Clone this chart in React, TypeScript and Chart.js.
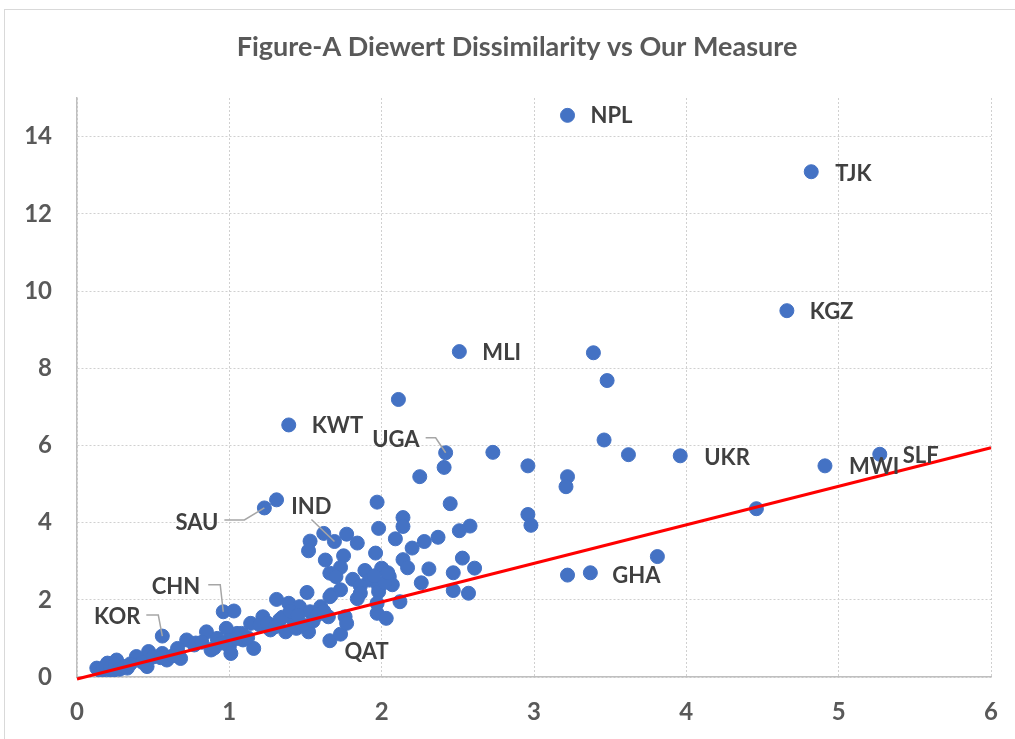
import React, { useEffect, useRef } from "react";
import { Chart, registerables } from "chart.js";

Chart.register(...registerables);

const TITLE = "Figure-A Diewert Dissimilarity vs Our Measure";

// Our measure (x) and Diewert dissimilarity (y) for every country
const xValues = [
  3.22, 4.82, 4.66, 2.51, 3.39, 3.48, 2.11, 1.39, 2.42, 2.73, 3.46, 3.62, 3.96, 4.91, 5.27,
  2.41, 2.96, 3.22, 3.21, 2.25, 2.45, 2.96, 2.98, 4.46, 3.81, 3.22, 3.37,
  1.23, 1.31, 1.97, 2.14, 2.14, 1.98, 2.09, 2.58, 2.51, 2.37, 2.28, 2.20, 1.96, 2.14, 2.17,
  2.53, 2.61, 2.31, 2.47, 2.26, 2.47, 2.57, 2.12,
  1.69, 1.53, 1.52, 1.62, 1.77, 1.84, 1.75, 1.63, 1.73, 1.66, 1.70, 1.89, 2.00, 1.81, 1.92,
  2.05, 1.86, 1.98, 2.07, 1.51, 1.73, 1.67, 1.86, 1.98, 2.02, 2.04, 1.95,
  1.66, 1.73, 1.66, 1.31, 1.39, 1.46, 1.60, 1.53, 1.22, 1.33, 1.42, 1.14, 1.20, 1.27, 1.37,
  1.44, 1.52, 1.65, 1.76, 1.77, 1.05, 1.09, 1.16, 1.00, 1.97, 2.03, 1.97,
  0.56, 0.96, 1.03, 0.85, 0.98, 1.00, 1.08, 0.72, 0.77, 0.66, 0.88, 1.01, 0.56, 0.47, 0.39,
  0.46, 0.33, 0.26, 0.20, 0.13, 0.16, 0.23, 0.59, 0.68,
  0.17, 0.19, 0.22, 0.25, 0.28, 0.31, 0.35, 0.43, 0.50, 0.55, 0.63, 0.78, 0.82, 0.90, 0.92,
  0.95, 1.05, 1.12, 1.25, 1.30, 1.35, 1.40, 1.48, 1.55, 1.58, 1.62, 1.45, 1.84,
];
const yValues = [
  14.55, 13.09, 9.49, 8.43, 8.40, 7.68, 7.19, 6.53, 5.81, 5.82, 6.14, 5.76, 5.73, 5.47, 5.77,
  5.43, 5.47, 5.19, 4.93, 5.19, 4.49, 4.21, 3.93, 4.36, 3.12, 2.64, 2.70,
  4.38, 4.59, 4.53, 4.13, 3.90, 3.85, 3.58, 3.91, 3.79, 3.62, 3.51, 3.34, 3.21, 3.04, 2.83,
  3.08, 2.82, 2.80, 2.70, 2.44, 2.24, 2.17, 1.95,
  3.51, 3.52, 3.27, 3.72, 3.70, 3.47, 3.14, 3.03, 2.84, 2.69, 2.60, 2.76, 2.82, 2.53, 2.51,
  2.60, 2.36, 2.34, 2.39, 2.19, 2.26, 2.13, 2.17, 2.21, 2.45, 2.70, 2.62,
  0.94, 1.11, 2.08, 2.01, 1.91, 1.82, 1.82, 1.69, 1.56, 1.48, 1.48, 1.39, 1.35, 1.22, 1.17,
  1.26, 1.17, 1.56, 1.56, 1.39, 1.13, 0.96, 0.74, 0.79, 1.65, 1.52, 1.91,
  1.06, 1.69, 1.71, 1.17, 1.26, 0.96, 1.13, 0.96, 0.83, 0.74, 0.70, 0.61, 0.61, 0.66, 0.53,
  0.27, 0.23, 0.44, 0.36, 0.23, 0.14, 0.14, 0.44, 0.48,
  0.22, 0.28, 0.25, 0.32, 0.20, 0.27, 0.34, 0.38, 0.52, 0.50, 0.55, 0.88, 0.90, 0.75, 1.00,
  0.88, 1.00, 1.02, 1.40, 1.30, 1.55, 1.70, 1.35, 1.45, 1.62, 1.70, 1.60, 2.03,
];

// Labelled countries
const labelCodes = ["NPL", "TJK", "KGZ", "MLI", "KWT", "UGA", "UKR", "MWI", "SLF", "GHA", "QAT", "SAU", "IND", "CHN", "KOR"];
const labelX = [3.22, 4.82, 4.66, 2.51, 1.39, 2.42, 3.96, 4.91, 5.27, 3.37, 1.73, 1.23, 1.69, 0.96, 0.56];
const labelY = [14.55, 13.09, 9.49, 8.43, 6.53, 5.81, 5.73, 5.47, 5.77, 2.70, 1.11, 4.38, 3.51, 1.69, 1.06];

// Reference line end points
const lineX = [0, 6];
const lineY = [-0.05, 5.94];

const xTicks = [0, 1, 2, 3, 4, 5, 6];
const yTicks = [0, 2, 4, 6, 8, 10, 12, 14];

// Label placement (pixel offsets from the point)
const labelLayout: Record<string, { dx: number; dy: number; align: CanvasTextAlign; leader?: number[][] }> = {
  NPL: { dx: 23, dy: 1, align: "left" },
  TJK: { dx: 24, dy: 2, align: "left" },
  KGZ: { dx: 23, dy: 1, align: "left" },
  MLI: { dx: 23, dy: 1, align: "left" },
  KWT: { dx: 23, dy: 1, align: "left" },
  UGA: { dx: -26, dy: -13, align: "right", leader: [[0, 0], [-10, -15], [-20, -15]] },
  UKR: { dx: 24, dy: 2, align: "left" },
  MWI: { dx: 24, dy: 1, align: "left" },
  SLF: { dx: 23, dy: 2, align: "left" },
  GHA: { dx: 22, dy: 3, align: "left" },
  QAT: { dx: 4, dy: 18, align: "left" },
  SAU: { dx: -46, dy: 15, align: "right", leader: [[0, 0], [-20, 12], [-40, 12]] },
  IND: { dx: -23, dy: -35, align: "center", leader: [[0, 0], [-23, -22]] },
  CHN: { dx: -23, dy: -25, align: "right", leader: [[0, 0], [-3, -27], [-15, -27]] },
  KOR: { dx: -22, dy: -19, align: "right", leader: [[0, 0], [-4, -21], [-16, -21]] },
};

const FONT = "Lato, 'Open Sans', sans-serif";

export default function App() {
  const ref = useRef<HTMLCanvasElement | null>(null);

  useEffect(() => {
    document.body.style.margin = "0";
    const canvas = ref.current;
    if (!canvas) return;

    const frame = {
      id: "frame",
      beforeDraw(chart: any) {
        const ctx = chart.ctx;
        ctx.save();
        ctx.fillStyle = "#ffffff";
        ctx.fillRect(0, 0, chart.width, chart.height);
        ctx.strokeStyle = "#d9d9d9";
        ctx.lineWidth = 1;
        ctx.strokeRect(4.5, 9.5, chart.width + 10, chart.height + 10);
        ctx.fillStyle = "#595959";
        ctx.font = `bold 27px ${FONT}`;
        ctx.textAlign = "center";
        ctx.textBaseline = "middle";
        ctx.fillText(TITLE, 517, 47);
        ctx.restore();
      },
    };

    const labels = {
      id: "countryLabels",
      afterDatasetsDraw(chart: any) {
        const ctx = chart.ctx;
        const xs = chart.scales.x;
        const ys = chart.scales.y;
        ctx.save();
        labelCodes.forEach((code, i) => {
          const px = xs.getPixelForValue(labelX[i]);
          const py = ys.getPixelForValue(labelY[i]);
          const l = labelLayout[code];
          if (l.leader) {
            ctx.strokeStyle = "#a6a6a6";
            ctx.lineWidth = 1.5;
            ctx.beginPath();
            l.leader.forEach((p, j) => {
              if (j === 0) ctx.moveTo(px + p[0], py + p[1]);
              else ctx.lineTo(px + p[0], py + p[1]);
            });
            ctx.stroke();
          }
          ctx.fillStyle = "#404040";
          ctx.font = `bold 22px ${FONT}`;
          ctx.textAlign = l.align;
          ctx.textBaseline = "middle";
          ctx.fillText(code, px + l.dx, py + l.dy);
        });
        ctx.restore();
      },
    };

    const points = xValues.map((x, i) => ({ x, y: yValues[i] }));
    const linePts = lineX.map((x, i) => ({ x, y: lineY[i] }));

    const chart = new Chart(canvas, {
      type: "scatter",
      data: {
        datasets: [
          {
            type: "line",
            data: linePts,
            borderColor: "#ff0000",
            borderWidth: 3,
            pointRadius: 0,
            clip: false,
            order: 0,
          } as any,
          {
            type: "scatter",
            data: points,
            backgroundColor: "#4472c4",
            borderColor: "#4472c4",
            borderWidth: 1,
            pointRadius: 7,
            order: 1,
          },
        ],
      },
      options: {
        responsive: false,
        animation: false,
        layout: { padding: { left: 0, top: 98, right: 24, bottom: 0 } },
        plugins: { legend: { display: false }, tooltip: { enabled: false }, title: { display: false } },
        scales: {
          x: {
            type: "linear",
            min: 0,
            max: 6,
            afterFit: (s: any) => { s.height = 62; s.paddingRight = 0; s.paddingLeft = 0; },
            afterBuildTicks: (s: any) => { s.ticks = xTicks.map((v) => ({ value: v })); },
            ticks: { font: { family: FONT, size: 24, weight: "bold" }, color: "#595959", padding: 21 },
            grid: { drawTicks: false, color: "#d0d0d0", lineWidth: 1 },
            border: { display: true, color: "#bfbfbf", width: 1.5, dash: [2, 2] },
          },
          y: {
            type: "linear",
            min: 0,
            max: 15,
            afterFit: (s: any) => { s.width = 77; s.paddingTop = 0; s.paddingBottom = 0; },
            afterBuildTicks: (s: any) => { s.ticks = yTicks.map((v) => ({ value: v })); },
            ticks: { font: { family: FONT, size: 24, weight: "bold" }, color: "#595959", padding: 25 },
            grid: { drawTicks: false, color: "#d0d0d0", lineWidth: 1 },
            border: { display: true, color: "#bfbfbf", width: 1.5, dash: [2, 2] },
          },
        },
      },
      plugins: [frame, labels],
    });

    return () => chart.destroy();
  }, []);

  return <canvas ref={ref} width={1015} height={739} style={{ display: "block", width: 1015, height: 739 }} />;
}
